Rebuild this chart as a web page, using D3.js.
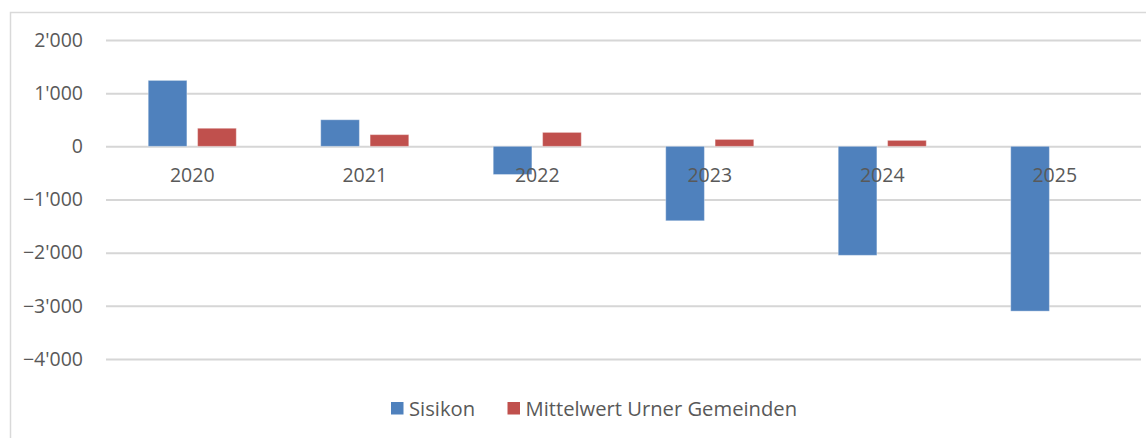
<!DOCTYPE html>
<html><head><meta charset="utf-8">
<script src="https://cdn.jsdelivr.net/npm/d3@7"></script>
<style>body{margin:0;background:#fff}svg{display:block}text{font-family:"Open Sans",sans-serif;fill:#595959}</style>
</head><body><svg id="c" width="1146" height="438"></svg>
<script>
const years = ["2020","2021","2022","2023","2024","2025"];
const seriesNames = ["Sisikon","Mittelwert Urner Gemeinden"];
const sisikon = [1240, 500, -530, -1400, -2050, -3100];
const mittelwert = [340, 220, 262, 130, 112, null];
const yTicks = [2000, 1000, 0, -1000, -2000, -3000, -4000];
const colors = ["#4F81BD", "#C0504D"];

const svg = d3.select("#c");
// outer frame
svg.append("path").attr("d","M10.5,438 V12.5 H1146").attr("fill","none").attr("stroke","#d9d9d9").attr("stroke-width",1.5);

const x0 = d3.scaleBand().domain(years).range([106,1141]).padding(0);
const x1 = d3.scaleBand().domain(seriesNames).range([0,x0.bandwidth()]).paddingInner(0.217).paddingOuter(0.855);
const y = d3.scaleLinear().domain([-4000,2000]).range([359,40]);
const fmt = v => d3.format(",")(v).replace(/,/g,"'");

// gridlines
const yAxis = d3.axisLeft(y).tickValues(yTicks).tickSize(-(1141-106)).tickFormat(fmt).tickPadding(23);
const ga = svg.append("g").attr("transform","translate(106,0)").call(yAxis);
ga.select(".domain").remove();
ga.selectAll("line").attr("stroke","#d6d6d6").attr("stroke-width",2);
ga.selectAll("text").attr("font-size",19.5).style("fill","#595959").attr("font-family","Open Sans");

const data = years.map((yr,i)=>({yr, vals:[sisikon[i], mittelwert[i]]}));
const g = svg.append("g");
data.forEach(d=>{
  d.vals.forEach((v,j)=>{
    if(v==null) return;
    g.append("rect")
      .attr("x", x0(d.yr)+x1(seriesNames[j]))
      .attr("width", x1.bandwidth())
      .attr("y", v>=0 ? y(v) : y(0))
      .attr("height", Math.abs(y(v)-y(0)))
      .attr("fill", colors[j])
      .attr("stroke","rgba(255,255,255,0.35)").attr("stroke-width",1);
  });
});

// category labels
const xAxis = d3.axisBottom(x0).tickSize(0).tickPadding(22);
const gx = svg.append("g").attr("transform",`translate(0,${y(0)})`).call(xAxis);
gx.select(".domain").remove();
gx.selectAll("text").attr("font-size",19.5).style("fill","#595959").attr("font-family","Open Sans");

// legend
const leg = svg.append("g");
const legX = [391, 507.5];
seriesNames.forEach((s,j)=>{
  leg.append("rect").attr("x",legX[j]).attr("y",402).attr("width",12.5).attr("height",12.5).attr("fill",colors[j]);
  leg.append("text").attr("x",legX[j]+18).attr("y",408.5).attr("dy","0.35em").attr("font-size",20.2).text(s);
});
</script></body></html>
